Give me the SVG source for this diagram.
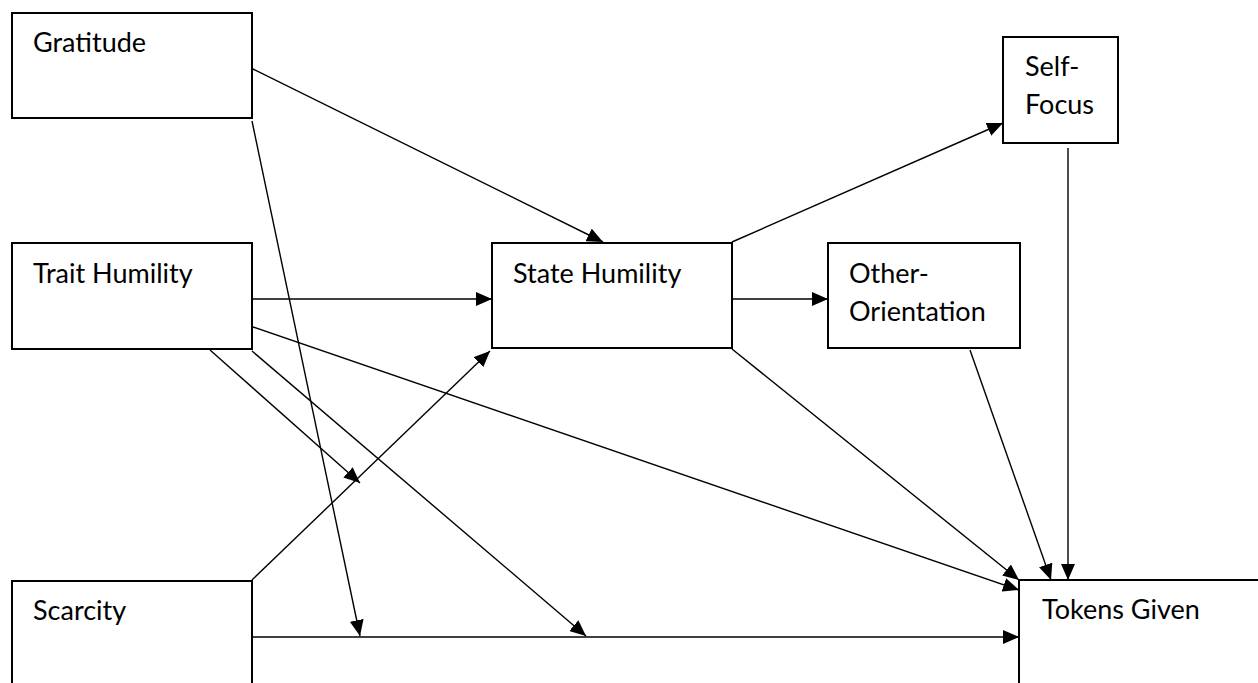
<svg xmlns="http://www.w3.org/2000/svg" width="1258" height="683" viewBox="0 0 1258 683">
<style>
.box{fill:#fff;stroke:#000;stroke-width:2}
.lbl{font-family:Lato,"Open Sans",sans-serif;font-size:27px;fill:#000}
.conn line{stroke:#000;stroke-width:1.4;fill:none}
.arr{marker-end:url(#ah)}
</style>
<defs>
<marker id="ah" markerUnits="userSpaceOnUse" markerWidth="16" markerHeight="14" refX="16" refY="7" orient="auto" viewBox="0 0 16 14">
<path d="M0,0 L16,7 L0,14 z" fill="#000"/>
</marker>
</defs>
<rect width="1258" height="683" fill="#fff"/>
<g id="connectors" class="conn">
<line class="arr" x1="253" y1="69" x2="603" y2="242"/>
<line class="arr" x1="252" y1="121" x2="360" y2="636"/>
<line class="arr" x1="252" y1="299" x2="492" y2="299"/>
<line class="arr" x1="732" y1="299" x2="828" y2="299"/>
<line class="arr" x1="253" y1="327" x2="1019" y2="590"/>
<line class="arr" x1="732" y1="349" x2="1019" y2="580"/>
<line class="arr" x1="970" y1="350" x2="1051" y2="580"/>
<line class="arr" x1="1068" y1="148" x2="1068" y2="580"/>
<line class="arr" x1="732" y1="242" x2="1003" y2="123"/>
<line class="arr" x1="252" y1="580" x2="490" y2="351"/>
<line class="arr" x1="210" y1="350" x2="360" y2="483"/>
<line class="arr" x1="252" y1="351" x2="586" y2="636"/>
<line class="arr" x1="252" y1="637" x2="1019" y2="637"/>
</g>
<g id="gratitude"><rect class="box" x="12" y="13" width="240" height="105"/><text class="lbl" x="33" y="52">Gratitude</text></g>
<g id="trait-humility"><rect class="box" x="12" y="243" width="240" height="106"/><text class="lbl" x="33" y="283">Trait Humility</text></g>
<g id="scarcity"><rect class="box" x="12" y="581" width="240" height="150"/><text class="lbl" x="33" y="620">Scarcity</text></g>
<g id="state-humility"><rect class="box" x="492" y="243" width="240" height="105"/><text class="lbl" x="513" y="283">State Humility</text></g>
<g id="other-orientation"><rect class="box" x="828" y="243" width="192" height="105"/><text class="lbl" x="849" y="283">Other-</text><text class="lbl" x="849" y="321">Orientation</text></g>
<g id="self-focus"><rect class="box" x="1003" y="37" width="115" height="106"/><text class="lbl" x="1025" y="76">Self-</text><text class="lbl" x="1025" y="114">Focus</text></g>
<g id="tokens-given"><rect class="box" x="1019" y="580" width="260" height="150"/><text class="lbl" x="1042" y="619">Tokens Given</text></g>
</svg>
